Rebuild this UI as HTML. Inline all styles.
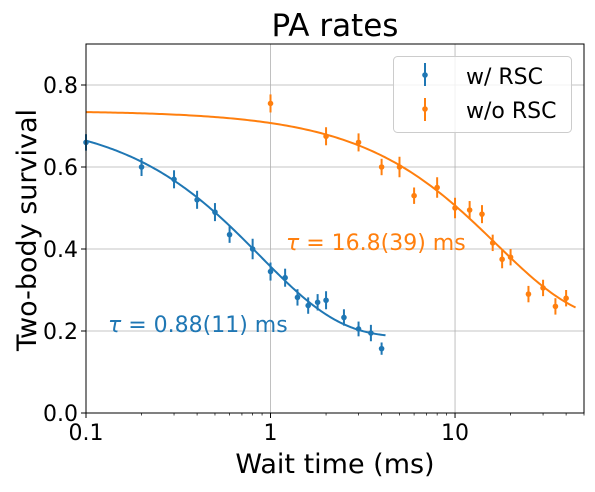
<!DOCTYPE html>
<html><head><meta charset="utf-8"><style>
body{margin:0;background:#fff}
svg text{font-family:"DejaVu Sans","Liberation Sans",sans-serif}
</style></head><body>
<svg id="chart" width="595" height="487" viewBox="0 0 595 487" xmlns="http://www.w3.org/2000/svg"></svg>
<script>
const blueT=[0.1,0.2,0.3,0.4,0.5,0.6,0.8,1.0,1.2,1.4,1.6,1.8,2.0,2.5,3.0,3.5,4.0];
const blueY=[0.66,0.60,0.57,0.52,0.49,0.435,0.40,0.345,0.33,0.282,0.262,0.27,0.275,0.233,0.205,0.195,0.157];
const blueErr=[0.02,0.022,0.022,0.022,0.022,0.02,0.025,0.022,0.022,0.02,0.02,0.02,0.022,0.02,0.018,0.02,0.015];
const orangeT=[1,2,3,4,5,6,8,10,12,14,16,18,20,25,30,35,40];
const orangeY=[0.755,0.675,0.66,0.60,0.60,0.53,0.55,0.50,0.495,0.485,0.415,0.375,0.38,0.29,0.305,0.26,0.28];
const orangeErr=[0.022,0.022,0.022,0.02,0.025,0.02,0.025,0.025,0.022,0.022,0.02,0.022,0.02,0.02,0.02,0.02,0.02];
const blueFit={A:0.537,c:0.185,tau:0.88,tmax:4.2};
const orangeFit={A:0.515,c:0.222,tau:16.8,tmax:45};
const xTicks=[0.1,1,10];
const xTickLabels=["0.1","1","10"];
const yTicks=[0,0.2,0.4,0.6,0.8];
const yTickLabels=["0.0","0.2","0.4","0.6","0.8"];

const L=86,R=584,T=44,B=413,XMIN=0.1,XMAX=50,YMIN=0,YMAX=0.9;
const sx=v=>L+(Math.log10(v)-Math.log10(XMIN))/(Math.log10(XMAX)-Math.log10(XMIN))*(R-L);
const sy=v=>B-(v-YMIN)/(YMAX-YMIN)*(B-T);
const svg=document.getElementById('chart');
const NS='http://www.w3.org/2000/svg';
function mk(tag,attrs,parent){const e=document.createElementNS(NS,tag);for(const k in attrs)e.setAttribute(k,attrs[k]);(parent||svg).appendChild(e);return e;}
const BLUE='#1f77b4',OR='#ff7f0e';

xTicks.forEach((t,i)=>{const g=mk('line',{x1:sx(t),x2:sx(t),y1:T,y2:B,stroke:'#b0b0b0','stroke-width':0.8});

});
yTicks.forEach(t=>{const g=mk('line',{x1:L,x2:R,y1:sy(t),y2:sy(t),stroke:'#b0b0b0','stroke-width':0.8});

});

function fit(f,color,name){let d='';for(let i=0;i<=200;i++){const lt=Math.log10(0.1)+(Math.log10(f.tmax)-Math.log10(0.1))*i/200;const t=Math.pow(10,lt);const y=f.c+f.A*Math.exp(-t/f.tau);d+=(i?'L':'M')+sx(t).toFixed(2)+','+sy(y).toFixed(2);}
const p=mk('path',{d:d,fill:'none',stroke:color,'stroke-width':2});

}
fit(blueFit,BLUE,'fit-curve-with-rsc');
fit(orangeFit,OR,'fit-curve-without-rsc');

function pts(ts,ys,es,color,name){ts.forEach((t,i)=>{const g=mk('g',{});


mk('line',{x1:sx(t),x2:sx(t),y1:sy(ys[i]-es[i]),y2:sy(ys[i]+es[i]),stroke:color,'stroke-width':2},g);
mk('circle',{cx:sx(t),cy:sy(ys[i]),r:2.8,fill:color},g);});}
pts(blueT,blueY,blueErr,BLUE,'point-with-rsc');
pts(orangeT,orangeY,orangeErr,OR,'point-without-rsc');

const fr=mk('rect',{x:L,y:T,width:R-L,height:B-T,fill:'none',stroke:'#000','stroke-width':1});



for(let d=-1;d<=1;d++){for(let m=1;m<10;m++){const v=m*Math.pow(10,d);if(v<XMIN||v>XMAX)continue;const len=m===1?5:2.5;
const tk=mk('line',{x1:sx(v),x2:sx(v),y1:B,y2:B+len,stroke:'#000','stroke-width':m===1?1:0.7});

}}
xTicks.forEach((t,i)=>{const tx=mk('text',{x:sx(t),y:B+27,'font-size':22,'text-anchor':'middle',fill:'#000'});tx.textContent=xTickLabels[i];

});
yTicks.forEach((t,i)=>{mk('line',{x1:L-5,x2:L,y1:sy(t),y2:sy(t),stroke:'#000','stroke-width':1});
const tx=mk('text',{x:L-8,y:sy(t)+8,'font-size':22,'text-anchor':'end',fill:'#000'});tx.textContent=yTickLabels[i];

});
</script>
<svg style="position:absolute;left:0;top:0" width="595" height="487">
<text x="335" y="36" font-size="31" text-anchor="middle" font-family="DejaVu Sans, Liberation Sans, sans-serif">PA rates</text>
<text x="335" y="473" font-size="27" text-anchor="middle" font-family="DejaVu Sans, Liberation Sans, sans-serif">Wait time (ms)</text>
<text transform="translate(36,230) rotate(-90)" font-size="27" text-anchor="middle" font-family="DejaVu Sans, Liberation Sans, sans-serif">Two-body survival</text>
<text x="108" y="332" font-size="22" fill="#1f77b4" font-family="DejaVu Sans, Liberation Sans, sans-serif"><tspan font-style="italic">τ</tspan> = 0.88(11) ms</text>
<text x="286" y="250" font-size="22" fill="#ff7f0e" font-family="DejaVu Sans, Liberation Sans, sans-serif"><tspan font-style="italic">τ</tspan> = 16.8(39) ms</text>
<g>
<rect x="393.5" y="56.5" width="178" height="76" rx="4" fill="#fff" fill-opacity="0.8" stroke="#ccc"/>
<g>
<line x1="425" x2="425" y1="63" y2="86" stroke="#1f77b4" stroke-width="2"/><circle cx="425" cy="75" r="2.8" fill="#1f77b4"/>
<text x="466" y="84" font-size="22" font-family="DejaVu Sans, Liberation Sans, sans-serif">w/ RSC</text></g>
<g>
<line x1="425" x2="425" y1="98" y2="121" stroke="#ff7f0e" stroke-width="2"/><circle cx="425" cy="109" r="2.8" fill="#ff7f0e"/>
<text x="466" y="118" font-size="22" font-family="DejaVu Sans, Liberation Sans, sans-serif">w/o RSC</text></g>
</g>
</svg>
</body></html>
